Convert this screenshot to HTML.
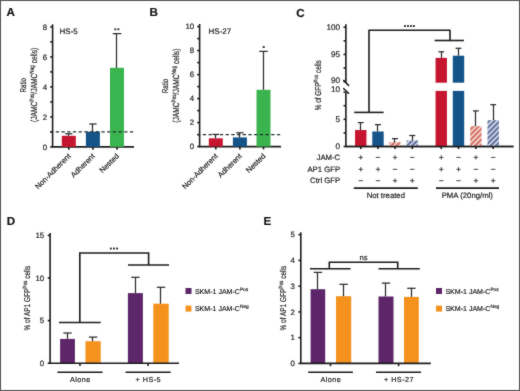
<!DOCTYPE html>
<html><head><meta charset="utf-8"><style>
html,body{margin:0;padding:0;background:#fff;}
body{width:520px;height:391px;overflow:hidden;}
svg{display:block;will-change:transform;}
svg text{font-family:"Liberation Sans",sans-serif;text-rendering:geometricPrecision;stroke:#2a2a2a;stroke-width:0.2px;}
</style></head><body>
<svg width="520" height="391" viewBox="0 0 520 391">
<defs><filter id="bl" x="0" y="0" width="520" height="391" filterUnits="userSpaceOnUse" color-interpolation-filters="sRGB"><feConvolveMatrix order="3" kernelMatrix="1 2 1 2 24 2 1 2 1" divisor="36" edgeMode="duplicate"/></filter></defs>
<g filter="url(#bl)">
<rect x="0" y="0" width="520" height="391" fill="#fff"/>
<text x="6.6" y="16.2" font-size="11.6" text-anchor="start" font-weight="bold" fill="#111" >A</text>
<line x1="52.6" y1="24.300000000000004" x2="52.6" y2="147.4" stroke="#1c1c1c" stroke-width="1.6" />
<line x1="50.2" y1="146.9" x2="52.6" y2="146.9" stroke="#1c1c1c" stroke-width="1.6" />
<line x1="50.2" y1="131.9" x2="52.6" y2="131.9" stroke="#1c1c1c" stroke-width="1.6" />
<line x1="50.2" y1="116.9" x2="52.6" y2="116.9" stroke="#1c1c1c" stroke-width="1.6" />
<line x1="50.2" y1="101.9" x2="52.6" y2="101.9" stroke="#1c1c1c" stroke-width="1.6" />
<line x1="50.2" y1="86.9" x2="52.6" y2="86.9" stroke="#1c1c1c" stroke-width="1.6" />
<line x1="50.2" y1="71.9" x2="52.6" y2="71.9" stroke="#1c1c1c" stroke-width="1.6" />
<line x1="50.2" y1="56.900000000000006" x2="52.6" y2="56.900000000000006" stroke="#1c1c1c" stroke-width="1.6" />
<line x1="50.2" y1="41.900000000000006" x2="52.6" y2="41.900000000000006" stroke="#1c1c1c" stroke-width="1.6" />
<line x1="50.2" y1="26.900000000000006" x2="52.6" y2="26.900000000000006" stroke="#1c1c1c" stroke-width="1.6" />
<text x="47.2" y="149.70000000000002" font-size="7.8" text-anchor="end" font-weight="normal" fill="#222" >0</text>
<text x="47.2" y="119.7" font-size="7.8" text-anchor="end" font-weight="normal" fill="#222" >2</text>
<text x="47.2" y="89.7" font-size="7.8" text-anchor="end" font-weight="normal" fill="#222" >4</text>
<text x="47.2" y="59.7" font-size="7.8" text-anchor="end" font-weight="normal" fill="#222" >6</text>
<text x="47.2" y="29.700000000000006" font-size="7.8" text-anchor="end" font-weight="normal" fill="#222" >8</text>
<line x1="52.1" y1="146.9" x2="134" y2="146.9" stroke="#1c1c1c" stroke-width="1.6" />
<text x="59.6" y="33.8" font-size="8" text-anchor="start" font-weight="normal" fill="#222" >HS-5</text>
<rect x="61.8" y="135.8" width="14" height="11.099999999999994" fill="#c6162f"/>
<rect x="85.9" y="131.7" width="14" height="15.200000000000017" fill="#155489"/>
<rect x="110.0" y="67.8" width="14" height="79.10000000000001" fill="#3ab44e"/>
<line x1="68.5" y1="133.8" x2="68.5" y2="135.8" stroke="#2a2a2a" stroke-width="1.25" />
<line x1="65.2" y1="133.8" x2="72.39999999999999" y2="133.8" stroke="#2c2c2c" stroke-width="1.25" />
<line x1="68.8" y1="146.9" x2="68.8" y2="149.70000000000002" stroke="#1c1c1c" stroke-width="1.6" />
<text x="71.2" y="156.5" font-size="7.5" text-anchor="end" fill="#222" transform="rotate(-45 71.2 156.5)">Non-Adherent</text>
<line x1="92.5" y1="124.0" x2="92.5" y2="131.7" stroke="#2a2a2a" stroke-width="1.25" />
<line x1="89.2" y1="124.0" x2="96.60000000000001" y2="124.0" stroke="#2c2c2c" stroke-width="1.25" />
<line x1="92.9" y1="146.9" x2="92.9" y2="149.70000000000002" stroke="#1c1c1c" stroke-width="1.6" />
<text x="95.30000000000001" y="156.5" font-size="7.5" text-anchor="end" fill="#222" transform="rotate(-45 95.30000000000001 156.5)">Adherent</text>
<line x1="116.5" y1="33.6" x2="116.5" y2="67.8" stroke="#2a2a2a" stroke-width="1.25" />
<line x1="112.7" y1="33.6" x2="121.3" y2="33.6" stroke="#2c2c2c" stroke-width="1.25" />
<line x1="117.0" y1="146.9" x2="117.0" y2="149.70000000000002" stroke="#1c1c1c" stroke-width="1.6" />
<text x="119.4" y="156.5" font-size="7.5" text-anchor="end" fill="#222" transform="rotate(-45 119.4 156.5)">Nested</text>
<line x1="50.1" y1="131.9" x2="134" y2="131.9" stroke="#223030" stroke-width="1.4" stroke-dasharray="3.3 2.4"/>
<rect x="114.3" y="28.3" width="2.0" height="2.0" rx="0.6" fill="#333"/>
<rect x="117.4" y="28.3" width="2.0" height="2.0" rx="0.6" fill="#333"/>
<text font-size="8.4" fill="#222" text-anchor="middle" transform="translate(25.5 85.2) rotate(-90) scale(0.74 1)">Ratio</text>
<text font-size="8.8" fill="#222" text-anchor="middle" transform="translate(36.7 84.9) rotate(-90) scale(0.755 1)">(JAMC<tspan font-size="6.2" dy="-3.1">Pos</tspan><tspan dy="3.1">/JAMC</tspan><tspan font-size="6.2" dy="-3.1">Neg</tspan><tspan dy="3.1"> cells)</tspan></text>
<text x="149.6" y="16.2" font-size="11.6" text-anchor="start" font-weight="bold" fill="#111" >B</text>
<line x1="199.6" y1="23.999999999999993" x2="199.6" y2="147.1" stroke="#1c1c1c" stroke-width="1.6" />
<line x1="197.2" y1="146.6" x2="199.6" y2="146.6" stroke="#1c1c1c" stroke-width="1.6" />
<line x1="197.2" y1="134.6" x2="199.6" y2="134.6" stroke="#1c1c1c" stroke-width="1.6" />
<line x1="197.2" y1="122.6" x2="199.6" y2="122.6" stroke="#1c1c1c" stroke-width="1.6" />
<line x1="197.2" y1="110.6" x2="199.6" y2="110.6" stroke="#1c1c1c" stroke-width="1.6" />
<line x1="197.2" y1="98.6" x2="199.6" y2="98.6" stroke="#1c1c1c" stroke-width="1.6" />
<line x1="197.2" y1="86.6" x2="199.6" y2="86.6" stroke="#1c1c1c" stroke-width="1.6" />
<line x1="197.2" y1="74.6" x2="199.6" y2="74.6" stroke="#1c1c1c" stroke-width="1.6" />
<line x1="197.2" y1="62.599999999999994" x2="199.6" y2="62.599999999999994" stroke="#1c1c1c" stroke-width="1.6" />
<line x1="197.2" y1="50.599999999999994" x2="199.6" y2="50.599999999999994" stroke="#1c1c1c" stroke-width="1.6" />
<line x1="197.2" y1="38.599999999999994" x2="199.6" y2="38.599999999999994" stroke="#1c1c1c" stroke-width="1.6" />
<line x1="197.2" y1="26.599999999999994" x2="199.6" y2="26.599999999999994" stroke="#1c1c1c" stroke-width="1.6" />
<text x="194.2" y="149.4" font-size="7.8" text-anchor="end" font-weight="normal" fill="#222" >0</text>
<text x="194.2" y="125.39999999999999" font-size="7.8" text-anchor="end" font-weight="normal" fill="#222" >2</text>
<text x="194.2" y="101.39999999999999" font-size="7.8" text-anchor="end" font-weight="normal" fill="#222" >4</text>
<text x="194.2" y="77.39999999999999" font-size="7.8" text-anchor="end" font-weight="normal" fill="#222" >6</text>
<text x="194.2" y="53.39999999999999" font-size="7.8" text-anchor="end" font-weight="normal" fill="#222" >8</text>
<text x="194.2" y="29.399999999999995" font-size="7.8" text-anchor="end" font-weight="normal" fill="#222" >10</text>
<line x1="199.1" y1="146.6" x2="281" y2="146.6" stroke="#1c1c1c" stroke-width="1.6" />
<text x="208.6" y="33.8" font-size="8" text-anchor="start" font-weight="normal" fill="#222" >HS-27</text>
<rect x="208.8" y="138.3" width="14" height="8.299999999999983" fill="#c6162f"/>
<rect x="232.9" y="137.4" width="14" height="9.199999999999989" fill="#155489"/>
<rect x="256.5" y="89.8" width="14" height="56.8" fill="#3ab44e"/>
<line x1="215.8" y1="146.6" x2="215.8" y2="149.4" stroke="#1c1c1c" stroke-width="1.6" />
<text x="218.20000000000002" y="156.5" font-size="7.5" text-anchor="end" fill="#222" transform="rotate(-45 218.20000000000002 156.5)">Non-Adherent</text>
<line x1="239.9" y1="146.6" x2="239.9" y2="149.4" stroke="#1c1c1c" stroke-width="1.6" />
<text x="242.3" y="156.5" font-size="7.5" text-anchor="end" fill="#222" transform="rotate(-45 242.3 156.5)">Adherent</text>
<line x1="263.5" y1="51.4" x2="263.5" y2="89.8" stroke="#2a2a2a" stroke-width="1.25" />
<line x1="259.3" y1="51.4" x2="267.7" y2="51.4" stroke="#2c2c2c" stroke-width="1.25" />
<line x1="263.5" y1="146.6" x2="263.5" y2="149.4" stroke="#1c1c1c" stroke-width="1.6" />
<text x="265.9" y="156.5" font-size="7.5" text-anchor="end" fill="#222" transform="rotate(-45 265.9 156.5)">Nested</text>
<line x1="197.1" y1="134.6" x2="281" y2="134.6" stroke="#223030" stroke-width="1.4" stroke-dasharray="3.3 2.4"/>
<rect x="262.7" y="46.0" width="2.0" height="2.0" rx="0.6" fill="#333"/>
<text font-size="8.4" fill="#222" text-anchor="middle" transform="translate(167.8 86.0) rotate(-90) scale(0.74 1)">Ratio</text>
<text font-size="8.8" fill="#222" text-anchor="middle" transform="translate(179.0 85.7) rotate(-90) scale(0.755 1)">(JAMC<tspan font-size="6.2" dy="-3.1">Pos</tspan><tspan dy="3.1">/JAMC</tspan><tspan font-size="6.2" dy="-3.1">Neg</tspan><tspan dy="3.1"> cells)</tspan></text>
<line x1="215.5" y1="134.4" x2="215.5" y2="138.3" stroke="#2a2a2a" stroke-width="1.25" />
<line x1="212.4" y1="134.4" x2="219.20000000000002" y2="134.4" stroke="#2c2c2c" stroke-width="1.25" />
<line x1="239.5" y1="132.8" x2="239.5" y2="137.4" stroke="#2a2a2a" stroke-width="1.25" />
<line x1="236.20000000000002" y1="132.8" x2="243.6" y2="132.8" stroke="#2c2c2c" stroke-width="1.25" />
<text x="296.2" y="16.6" font-size="11.6" text-anchor="start" font-weight="bold" fill="#111" >C</text>
<line x1="345.9" y1="24.3" x2="345.9" y2="82.4" stroke="#1c1c1c" stroke-width="1.6" />
<line x1="345.9" y1="91.8" x2="345.9" y2="147.0" stroke="#1c1c1c" stroke-width="1.6" />
<line x1="343.5" y1="27.2" x2="345.9" y2="27.2" stroke="#1c1c1c" stroke-width="1.6" />
<line x1="343.5" y1="40.8" x2="345.9" y2="40.8" stroke="#1c1c1c" stroke-width="1.6" />
<line x1="343.5" y1="54.400000000000006" x2="345.9" y2="54.400000000000006" stroke="#1c1c1c" stroke-width="1.6" />
<line x1="343.5" y1="68.0" x2="345.9" y2="68.0" stroke="#1c1c1c" stroke-width="1.6" />
<line x1="343.5" y1="81.60000000000001" x2="345.9" y2="81.60000000000001" stroke="#1c1c1c" stroke-width="1.6" />
<line x1="343.5" y1="146.5" x2="345.9" y2="146.5" stroke="#1c1c1c" stroke-width="1.6" />
<line x1="343.5" y1="132.9" x2="345.9" y2="132.9" stroke="#1c1c1c" stroke-width="1.6" />
<line x1="343.5" y1="119.3" x2="345.9" y2="119.3" stroke="#1c1c1c" stroke-width="1.6" />
<line x1="343.5" y1="105.69999999999999" x2="345.9" y2="105.69999999999999" stroke="#1c1c1c" stroke-width="1.6" />
<line x1="343.5" y1="92.1" x2="345.9" y2="92.1" stroke="#1c1c1c" stroke-width="1.6" />
<text x="340.09999999999997" y="30.0" font-size="8.2" text-anchor="end" font-weight="normal" fill="#222" >100</text>
<text x="340.09999999999997" y="57.2" font-size="8.2" text-anchor="end" font-weight="normal" fill="#222" >95</text>
<text x="340.09999999999997" y="83.1" font-size="8.2" text-anchor="end" font-weight="normal" fill="#222" >90</text>
<text x="340.09999999999997" y="91.7" font-size="8.2" text-anchor="end" font-weight="normal" fill="#222" >10</text>
<text x="340.09999999999997" y="122.1" font-size="8.2" text-anchor="end" font-weight="normal" fill="#222" >5</text>
<text x="340.09999999999997" y="149.3" font-size="8.2" text-anchor="end" font-weight="normal" fill="#222" >0</text>
<rect x="344.9" y="82.4" width="2" height="9.4" fill="#fff"/>
<line x1="343.3" y1="80.0" x2="349.0" y2="85.9" stroke="#1c1c1c" stroke-width="1.6" />
<line x1="343.3" y1="88.2" x2="349.0" y2="93.8" stroke="#1c1c1c" stroke-width="1.6" />
<line x1="345.4" y1="146.5" x2="513.5" y2="146.5" stroke="#1c1c1c" stroke-width="1.6" />
<defs><pattern id="hr" patternUnits="userSpaceOnUse" width="3.7" height="3.7" patternTransform="rotate(45)"><rect width="3.7" height="3.7" fill="#d87c6f"/><rect x="0" width="1.0" height="3.7" fill="#fff"/></pattern><pattern id="hb" patternUnits="userSpaceOnUse" width="3.7" height="3.7" patternTransform="rotate(45)"><rect width="3.7" height="3.7" fill="#6b7ca6"/><rect x="0" width="1.0" height="3.7" fill="#fff"/></pattern></defs>
<rect x="355.05" y="130.0" width="11.4" height="16.5" fill="#c6162f"/>
<rect x="372.3" y="131.5" width="11.4" height="15.0" fill="#155489"/>
<rect x="389.3" y="142.1" width="11.4" height="4.400000000000006" fill="url(#hr)"/>
<rect x="406.6" y="140.4" width="11.4" height="6.099999999999994" fill="url(#hb)"/>
<rect x="435.55" y="57.9" width="11.4" height="24.800000000000004" fill="#c6162f"/>
<rect x="435.55" y="90.9" width="11.4" height="55.599999999999994" fill="#c6162f"/>
<rect x="452.8" y="55.7" width="11.4" height="27.0" fill="#155489"/>
<rect x="452.8" y="90.9" width="11.4" height="55.599999999999994" fill="#155489"/>
<rect x="470.2" y="126.2" width="11.4" height="20.299999999999997" fill="url(#hr)"/>
<rect x="487.5" y="120.2" width="11.4" height="26.299999999999997" fill="url(#hb)"/>
<line x1="360.5" y1="122.6" x2="360.5" y2="130.0" stroke="#2a2a2a" stroke-width="1.25" />
<line x1="357.75" y1="122.6" x2="363.75" y2="122.6" stroke="#2c2c2c" stroke-width="1.25" />
<line x1="377.5" y1="124.6" x2="377.5" y2="131.5" stroke="#2a2a2a" stroke-width="1.25" />
<line x1="375.0" y1="124.6" x2="381.0" y2="124.6" stroke="#2c2c2c" stroke-width="1.25" />
<line x1="394.5" y1="138.6" x2="394.5" y2="142.1" stroke="#2a2a2a" stroke-width="1.25" />
<line x1="392.0" y1="138.6" x2="398.0" y2="138.6" stroke="#2c2c2c" stroke-width="1.25" />
<line x1="412.5" y1="135.5" x2="412.5" y2="140.4" stroke="#2a2a2a" stroke-width="1.25" />
<line x1="409.3" y1="135.5" x2="415.3" y2="135.5" stroke="#2c2c2c" stroke-width="1.25" />
<line x1="441.5" y1="51.8" x2="441.5" y2="57.9" stroke="#2a2a2a" stroke-width="1.25" />
<line x1="438.35" y1="51.8" x2="444.15" y2="51.8" stroke="#2c2c2c" stroke-width="1.25" />
<line x1="458.5" y1="48.3" x2="458.5" y2="55.7" stroke="#2a2a2a" stroke-width="1.25" />
<line x1="455.6" y1="48.3" x2="461.4" y2="48.3" stroke="#2c2c2c" stroke-width="1.25" />
<line x1="475.5" y1="110.9" x2="475.5" y2="126.2" stroke="#2a2a2a" stroke-width="1.25" />
<line x1="473.0" y1="110.9" x2="478.79999999999995" y2="110.9" stroke="#2c2c2c" stroke-width="1.25" />
<line x1="493.5" y1="104.7" x2="493.5" y2="120.2" stroke="#2a2a2a" stroke-width="1.25" />
<line x1="490.3" y1="104.7" x2="496.09999999999997" y2="104.7" stroke="#2c2c2c" stroke-width="1.25" />
<line x1="345.4" y1="146.5" x2="513.5" y2="146.5" stroke="#1c1c1c" stroke-width="1.6" />
<line x1="360.75" y1="146.5" x2="360.75" y2="149.1" stroke="#1c1c1c" stroke-width="1.6" />
<line x1="378.0" y1="146.5" x2="378.0" y2="149.1" stroke="#1c1c1c" stroke-width="1.6" />
<line x1="395.0" y1="146.5" x2="395.0" y2="149.1" stroke="#1c1c1c" stroke-width="1.6" />
<line x1="412.3" y1="146.5" x2="412.3" y2="149.1" stroke="#1c1c1c" stroke-width="1.6" />
<line x1="441.25" y1="146.5" x2="441.25" y2="149.1" stroke="#1c1c1c" stroke-width="1.6" />
<line x1="458.5" y1="146.5" x2="458.5" y2="149.1" stroke="#1c1c1c" stroke-width="1.6" />
<line x1="475.9" y1="146.5" x2="475.9" y2="149.1" stroke="#1c1c1c" stroke-width="1.6" />
<line x1="493.2" y1="146.5" x2="493.2" y2="149.1" stroke="#1c1c1c" stroke-width="1.6" />
<line x1="354.2" y1="112.4" x2="383.6" y2="112.4" stroke="#1c1c1c" stroke-width="1.6" />
<line x1="369.0" y1="112.4" x2="369.0" y2="30.3" stroke="#1c1c1c" stroke-width="1.6" />
<line x1="368.5" y1="30.3" x2="450.0" y2="30.3" stroke="#1c1c1c" stroke-width="1.6" />
<line x1="450.0" y1="29.8" x2="450.0" y2="40.5" stroke="#1c1c1c" stroke-width="1.6" />
<line x1="434.6" y1="40.5" x2="463.9" y2="40.5" stroke="#1c1c1c" stroke-width="1.6" />
<rect x="404.0" y="25.0" width="2.0" height="2.0" rx="0.6" fill="#333"/>
<rect x="407.0" y="25.0" width="2.0" height="2.0" rx="0.6" fill="#333"/>
<rect x="410.0" y="25.0" width="2.0" height="2.0" rx="0.6" fill="#333"/>
<rect x="412.9" y="25.0" width="2.0" height="2.0" rx="0.6" fill="#333"/>
<text font-size="8.6" fill="#222" text-anchor="middle" transform="translate(321.0 85.2) rotate(-90) scale(0.745 1)">% of GFP<tspan font-size="6.0" dy="-3.3">Pos</tspan><tspan dy="3.2"> cells</tspan></text>
<text x="340.2" y="160.0" font-size="7.75" text-anchor="end" font-weight="normal" fill="#222" >JAM-C</text>
<text x="340.2" y="171.5" font-size="7.75" text-anchor="end" font-weight="normal" fill="#222" >AP1 GFP</text>
<text x="340.2" y="182.9" font-size="7.75" text-anchor="end" font-weight="normal" fill="#222" >Ctrl GFP</text>
<line x1="358.55" y1="157.4" x2="362.95" y2="157.4" stroke="#333" stroke-width="0.9" />
<line x1="360.75" y1="155.20000000000002" x2="360.75" y2="159.6" stroke="#333" stroke-width="0.9" />
<line x1="375.8" y1="157.4" x2="380.2" y2="157.4" stroke="#333" stroke-width="0.9" />
<line x1="392.8" y1="157.4" x2="397.2" y2="157.4" stroke="#333" stroke-width="0.9" />
<line x1="395.0" y1="155.20000000000002" x2="395.0" y2="159.6" stroke="#333" stroke-width="0.9" />
<line x1="410.1" y1="157.4" x2="414.5" y2="157.4" stroke="#333" stroke-width="0.9" />
<line x1="439.05" y1="157.4" x2="443.45" y2="157.4" stroke="#333" stroke-width="0.9" />
<line x1="441.25" y1="155.20000000000002" x2="441.25" y2="159.6" stroke="#333" stroke-width="0.9" />
<line x1="456.3" y1="157.4" x2="460.7" y2="157.4" stroke="#333" stroke-width="0.9" />
<line x1="473.7" y1="157.4" x2="478.09999999999997" y2="157.4" stroke="#333" stroke-width="0.9" />
<line x1="475.9" y1="155.20000000000002" x2="475.9" y2="159.6" stroke="#333" stroke-width="0.9" />
<line x1="491.0" y1="157.4" x2="495.4" y2="157.4" stroke="#333" stroke-width="0.9" />
<line x1="358.55" y1="169.3" x2="362.95" y2="169.3" stroke="#333" stroke-width="0.9" />
<line x1="360.75" y1="167.10000000000002" x2="360.75" y2="171.5" stroke="#333" stroke-width="0.9" />
<line x1="375.8" y1="169.3" x2="380.2" y2="169.3" stroke="#333" stroke-width="0.9" />
<line x1="378.0" y1="167.10000000000002" x2="378.0" y2="171.5" stroke="#333" stroke-width="0.9" />
<line x1="392.8" y1="169.3" x2="397.2" y2="169.3" stroke="#333" stroke-width="0.9" />
<line x1="410.1" y1="169.3" x2="414.5" y2="169.3" stroke="#333" stroke-width="0.9" />
<line x1="439.05" y1="169.3" x2="443.45" y2="169.3" stroke="#333" stroke-width="0.9" />
<line x1="441.25" y1="167.10000000000002" x2="441.25" y2="171.5" stroke="#333" stroke-width="0.9" />
<line x1="456.3" y1="169.3" x2="460.7" y2="169.3" stroke="#333" stroke-width="0.9" />
<line x1="458.5" y1="167.10000000000002" x2="458.5" y2="171.5" stroke="#333" stroke-width="0.9" />
<line x1="473.7" y1="169.3" x2="478.09999999999997" y2="169.3" stroke="#333" stroke-width="0.9" />
<line x1="491.0" y1="169.3" x2="495.4" y2="169.3" stroke="#333" stroke-width="0.9" />
<line x1="358.55" y1="180.7" x2="362.95" y2="180.7" stroke="#333" stroke-width="0.9" />
<line x1="375.8" y1="180.7" x2="380.2" y2="180.7" stroke="#333" stroke-width="0.9" />
<line x1="392.8" y1="180.7" x2="397.2" y2="180.7" stroke="#333" stroke-width="0.9" />
<line x1="395.0" y1="178.5" x2="395.0" y2="182.89999999999998" stroke="#333" stroke-width="0.9" />
<line x1="410.1" y1="180.7" x2="414.5" y2="180.7" stroke="#333" stroke-width="0.9" />
<line x1="412.3" y1="178.5" x2="412.3" y2="182.89999999999998" stroke="#333" stroke-width="0.9" />
<line x1="439.05" y1="180.7" x2="443.45" y2="180.7" stroke="#333" stroke-width="0.9" />
<line x1="456.3" y1="180.7" x2="460.7" y2="180.7" stroke="#333" stroke-width="0.9" />
<line x1="473.7" y1="180.7" x2="478.09999999999997" y2="180.7" stroke="#333" stroke-width="0.9" />
<line x1="475.9" y1="178.5" x2="475.9" y2="182.89999999999998" stroke="#333" stroke-width="0.9" />
<line x1="491.0" y1="180.7" x2="495.4" y2="180.7" stroke="#333" stroke-width="0.9" />
<line x1="493.2" y1="178.5" x2="493.2" y2="182.89999999999998" stroke="#333" stroke-width="0.9" />
<line x1="353.8" y1="188.1" x2="417.8" y2="188.1" stroke="#1c1c1c" stroke-width="1.6" />
<line x1="436.0" y1="188.1" x2="499.0" y2="188.1" stroke="#1c1c1c" stroke-width="1.6" />
<text x="385.8" y="197.9" font-size="7.75" text-anchor="middle" font-weight="normal" fill="#222" >Not treated</text>
<text x="467.3" y="197.9" font-size="7.75" text-anchor="middle" font-weight="normal" fill="#222" >PMA (20ng/ml)</text>
<text x="6.8" y="225.0" font-size="11.6" text-anchor="start" font-weight="bold" fill="#111" >D</text>
<line x1="50.1" y1="232.99999999999997" x2="50.1" y2="363.7" stroke="#1c1c1c" stroke-width="1.6" />
<line x1="47.7" y1="363.2" x2="50.1" y2="363.2" stroke="#1c1c1c" stroke-width="1.6" />
<line x1="47.7" y1="320.6" x2="50.1" y2="320.6" stroke="#1c1c1c" stroke-width="1.6" />
<line x1="47.7" y1="278.0" x2="50.1" y2="278.0" stroke="#1c1c1c" stroke-width="1.6" />
<line x1="47.7" y1="235.39999999999998" x2="50.1" y2="235.39999999999998" stroke="#1c1c1c" stroke-width="1.6" />
<text x="44.2" y="365.9" font-size="7.8" text-anchor="end" font-weight="normal" fill="#222" >0</text>
<text x="44.2" y="323.3" font-size="7.8" text-anchor="end" font-weight="normal" fill="#222" >5</text>
<text x="44.2" y="280.7" font-size="7.8" text-anchor="end" font-weight="normal" fill="#222" >10</text>
<text x="44.2" y="238.09999999999997" font-size="7.8" text-anchor="end" font-weight="normal" fill="#222" >15</text>
<rect x="60.1" y="338.9" width="14.800000000000004" height="24.30000000000001" fill="#5d2669"/>
<rect x="85.5" y="341.2" width="15.200000000000003" height="22.0" fill="#f5921e"/>
<rect x="127.9" y="293.1" width="15.0" height="70.09999999999997" fill="#5d2669"/>
<rect x="153.3" y="303.7" width="15.399999999999977" height="59.5" fill="#f5921e"/>
<line x1="67.5" y1="333.0" x2="67.5" y2="338.9" stroke="#2a2a2a" stroke-width="1.25" />
<line x1="63.3" y1="333.0" x2="71.7" y2="333.0" stroke="#2c2c2c" stroke-width="1.25" />
<line x1="92.5" y1="337.1" x2="92.5" y2="341.2" stroke="#2a2a2a" stroke-width="1.25" />
<line x1="88.89999999999999" y1="337.1" x2="97.3" y2="337.1" stroke="#2c2c2c" stroke-width="1.25" />
<line x1="135.5" y1="277.3" x2="135.5" y2="293.1" stroke="#2a2a2a" stroke-width="1.25" />
<line x1="131.20000000000002" y1="277.3" x2="139.6" y2="277.3" stroke="#2c2c2c" stroke-width="1.25" />
<line x1="160.5" y1="287.3" x2="160.5" y2="303.7" stroke="#2a2a2a" stroke-width="1.25" />
<line x1="156.8" y1="287.3" x2="165.2" y2="287.3" stroke="#2c2c2c" stroke-width="1.25" />
<line x1="49.6" y1="363.2" x2="179.0" y2="363.2" stroke="#1c1c1c" stroke-width="1.6" />
<line x1="80.0" y1="363.2" x2="80.0" y2="366.0" stroke="#1c1c1c" stroke-width="1.6" />
<line x1="57.4" y1="372.3" x2="102.6" y2="372.3" stroke="#1c1c1c" stroke-width="1.6" />
<line x1="148.1" y1="363.2" x2="148.1" y2="366.0" stroke="#1c1c1c" stroke-width="1.6" />
<line x1="125.5" y1="372.3" x2="170.7" y2="372.3" stroke="#1c1c1c" stroke-width="1.6" />
<text x="80.3" y="382.4" font-size="7.25" text-anchor="middle" font-weight="normal" fill="#222" letter-spacing="0.45">Alone</text>
<text x="148.29999999999998" y="382.4" font-size="7.25" text-anchor="middle" font-weight="normal" fill="#222" letter-spacing="0.45">+ HS-5</text>
<polyline points="59,322.5 100.7,322.5" fill="none" stroke="#1c1c1c" stroke-width="1.6"/>
<polyline points="79.8,322.5 79.8,253 148.6,253 148.6,265" fill="none" stroke="#1c1c1c" stroke-width="1.6"/>
<polyline points="128,265 169,265" fill="none" stroke="#1c1c1c" stroke-width="1.6"/>
<rect x="109.9" y="247.5" width="2.0" height="2.0" rx="0.6" fill="#333"/>
<rect x="113.0" y="247.5" width="2.0" height="2.0" rx="0.6" fill="#333"/>
<rect x="116.1" y="247.5" width="2.0" height="2.0" rx="0.6" fill="#333"/>
<rect x="185.5" y="288.0" width="6" height="6" fill="#5d2669"/>
<rect x="185.5" y="305.6" width="6" height="6" fill="#f5921e"/>
<text x="194.9" y="293.7" font-size="7.05" fill="#222">SKM-1 JAM-C<tspan font-size="4.8" dy="-3.0">Pos</tspan></text>
<text x="194.9" y="311.2" font-size="7.05" fill="#222">SKM-1 JAM-C<tspan font-size="4.8" dy="-3.0">Neg</tspan></text>
<text font-size="8.4" fill="#222" text-anchor="middle" transform="translate(30.4 298.2) rotate(-90) scale(0.775 1)">% of AP1 GFP<tspan font-size="6.0" dy="-3.3">Pos</tspan><tspan dy="3.2"> cells</tspan></text>
<text x="263.6" y="225.0" font-size="11.6" text-anchor="start" font-weight="bold" fill="#111" >E</text>
<line x1="300.8" y1="232.24999999999997" x2="300.8" y2="363.9" stroke="#1c1c1c" stroke-width="1.6" />
<line x1="298.40000000000003" y1="363.4" x2="300.8" y2="363.4" stroke="#1c1c1c" stroke-width="1.6" />
<line x1="298.40000000000003" y1="337.65" x2="300.8" y2="337.65" stroke="#1c1c1c" stroke-width="1.6" />
<line x1="298.40000000000003" y1="311.9" x2="300.8" y2="311.9" stroke="#1c1c1c" stroke-width="1.6" />
<line x1="298.40000000000003" y1="286.15" x2="300.8" y2="286.15" stroke="#1c1c1c" stroke-width="1.6" />
<line x1="298.40000000000003" y1="260.4" x2="300.8" y2="260.4" stroke="#1c1c1c" stroke-width="1.6" />
<line x1="298.40000000000003" y1="234.64999999999998" x2="300.8" y2="234.64999999999998" stroke="#1c1c1c" stroke-width="1.6" />
<text x="294.90000000000003" y="366.09999999999997" font-size="7.8" text-anchor="end" font-weight="normal" fill="#222" >0</text>
<text x="294.90000000000003" y="340.34999999999997" font-size="7.8" text-anchor="end" font-weight="normal" fill="#222" >1</text>
<text x="294.90000000000003" y="314.59999999999997" font-size="7.8" text-anchor="end" font-weight="normal" fill="#222" >2</text>
<text x="294.90000000000003" y="288.84999999999997" font-size="7.8" text-anchor="end" font-weight="normal" fill="#222" >3</text>
<text x="294.90000000000003" y="263.09999999999997" font-size="7.8" text-anchor="end" font-weight="normal" fill="#222" >4</text>
<text x="294.90000000000003" y="237.34999999999997" font-size="7.8" text-anchor="end" font-weight="normal" fill="#222" >5</text>
<rect x="310.6" y="289.2" width="14.599999999999966" height="74.19999999999999" fill="#5d2669"/>
<rect x="336.0" y="296.2" width="15.199999999999989" height="67.19999999999999" fill="#f5921e"/>
<rect x="378.5" y="296.5" width="15.0" height="66.89999999999998" fill="#5d2669"/>
<rect x="404.0" y="296.9" width="14.800000000000011" height="66.5" fill="#f5921e"/>
<line x1="317.5" y1="272.4" x2="317.5" y2="289.2" stroke="#2a2a2a" stroke-width="1.25" />
<line x1="313.7" y1="272.4" x2="322.09999999999997" y2="272.4" stroke="#2c2c2c" stroke-width="1.25" />
<line x1="343.5" y1="284.3" x2="343.5" y2="296.2" stroke="#2a2a2a" stroke-width="1.25" />
<line x1="339.40000000000003" y1="284.3" x2="347.8" y2="284.3" stroke="#2c2c2c" stroke-width="1.25" />
<line x1="385.5" y1="283.1" x2="385.5" y2="296.5" stroke="#2a2a2a" stroke-width="1.25" />
<line x1="381.8" y1="283.1" x2="390.2" y2="283.1" stroke="#2c2c2c" stroke-width="1.25" />
<line x1="411.5" y1="288.3" x2="411.5" y2="296.9" stroke="#2a2a2a" stroke-width="1.25" />
<line x1="407.2" y1="288.3" x2="415.59999999999997" y2="288.3" stroke="#2c2c2c" stroke-width="1.25" />
<line x1="300.3" y1="363.4" x2="430.8" y2="363.4" stroke="#1c1c1c" stroke-width="1.6" />
<line x1="330.5" y1="363.4" x2="330.5" y2="366.2" stroke="#1c1c1c" stroke-width="1.6" />
<line x1="308.2" y1="372.3" x2="352.9" y2="372.3" stroke="#1c1c1c" stroke-width="1.6" />
<line x1="398.6" y1="363.4" x2="398.6" y2="366.2" stroke="#1c1c1c" stroke-width="1.6" />
<line x1="376.0" y1="372.3" x2="421.0" y2="372.3" stroke="#1c1c1c" stroke-width="1.6" />
<text x="330.8" y="382.4" font-size="7.25" text-anchor="middle" font-weight="normal" fill="#222" letter-spacing="0.45">Alone</text>
<text x="399.0" y="382.4" font-size="7.25" text-anchor="middle" font-weight="normal" fill="#222" letter-spacing="0.45">+ HS-27</text>
<polyline points="310,268.8 350.6,268.8" fill="none" stroke="#1c1c1c" stroke-width="1.6"/>
<polyline points="329.3,268.8 329.3,262.3 397.7,262.3 397.7,268.7" fill="none" stroke="#1c1c1c" stroke-width="1.6"/>
<polyline points="378.5,268.7 419.8,268.7" fill="none" stroke="#1c1c1c" stroke-width="1.6"/>
<text x="363.5" y="260.0" font-size="7.6" text-anchor="middle" font-weight="normal" fill="#222" >ns</text>
<rect x="436.0" y="288.0" width="6" height="6" fill="#5d2669"/>
<rect x="436.0" y="305.6" width="6" height="6" fill="#f5921e"/>
<text x="445.4" y="293.7" font-size="7.05" fill="#222">SKM-1 JAM-C<tspan font-size="4.8" dy="-3.0">Pos</tspan></text>
<text x="445.4" y="311.2" font-size="7.05" fill="#222">SKM-1 JAM-C<tspan font-size="4.8" dy="-3.0">Neg</tspan></text>
<text font-size="8.4" fill="#222" text-anchor="middle" transform="translate(286.1 298.2) rotate(-90) scale(0.775 1)">% of AP1 GFP<tspan font-size="6.0" dy="-3.3">Pos</tspan><tspan dy="3.2"> cells</tspan></text>
<rect x="0.5" y="0.5" width="519" height="390" fill="none" stroke="#585858" stroke-width="1.05"/>
</g>
</svg>
</body></html>
